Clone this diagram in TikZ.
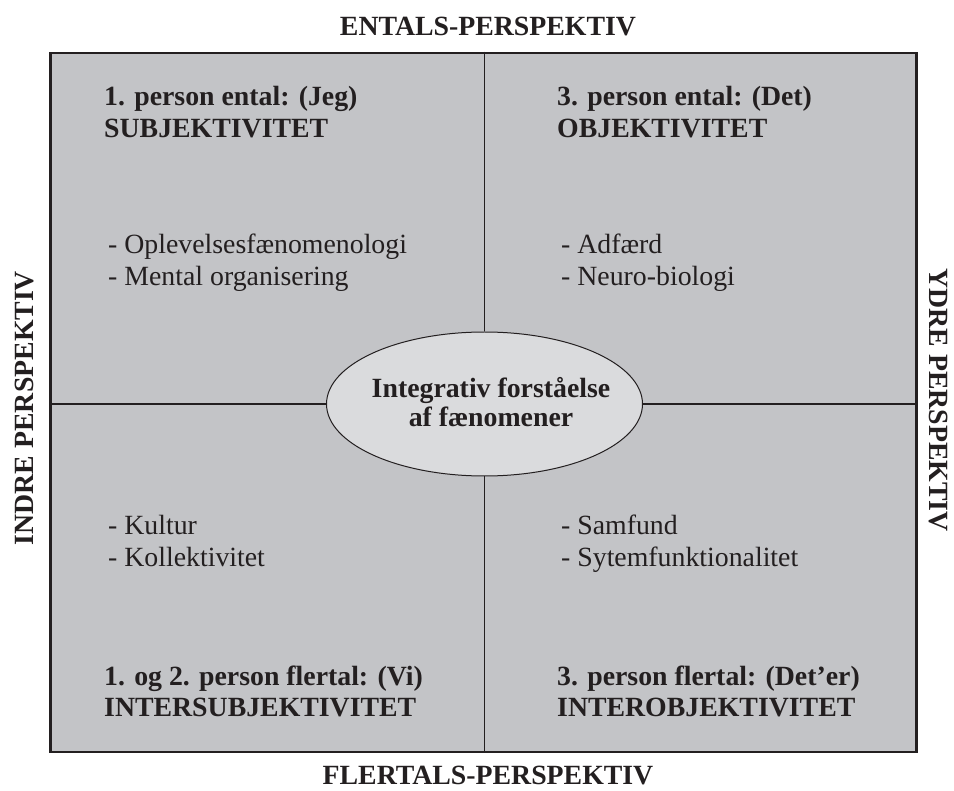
\documentclass[tikz,border=0pt]{standalone}
\usepackage{fontspec}
\setmainfont{Liberation Serif}
\usetikzlibrary{shapes.geometric}
\definecolor{panel}{HTML}{C3C4C7}
\definecolor{hub}{HTML}{DADBDD}
\definecolor{ink}{HTML}{231F20}
\tikzset{
  heading/.style={anchor=base west, inner sep=0pt, text=ink, font=\fontsize{27.8}{33}\selectfont\bfseries},
  item/.style={anchor=base west, inner sep=0pt, text=ink, font=\fontsize{27.8}{33}\selectfont},
  axis/.style={anchor=base, inner sep=0pt, text=ink, font=\fontsize{27.8}{33}\selectfont\bfseries},
  divider/.style={draw=ink, line width=1.3pt},
}
\begin{document}
\begin{tikzpicture}[x=1pt, y=-1pt]
\useasboundingbox (0,0) rectangle (954,791);

% outer frame
\node[draw=ink, fill=panel, line width=2.6pt, minimum width=866pt, minimum height=699pt, inner sep=0pt] (frame) at (483.5,402.5) {};

% central hub
\coordinate (hc) at (484.5,404);
\node[draw=ink, fill=hub, ellipse, line width=1pt, minimum width=316pt, minimum height=144pt, inner sep=0pt] (hub) at (hc) {};
\node[inner sep=0pt, anchor=base, text=ink, font=\fontsize{27.8}{33}\selectfont\bfseries] (hubA) at (491,398) {Integrativ forståelse};
\node[inner sep=0pt, anchor=base, text=ink, font=\fontsize{27.8}{33}\selectfont\bfseries] (hubB) at (491,427) {af fænomener};

% dividers between the quadrants
\draw[divider] (frame.north -| hub.north) -- (hub.north);
\draw[divider] (hub.south) -- (frame.south -| hub.south);
\draw[divider] (frame.west |- hub.west) -- (hub.west);
\draw[divider] (hub.east) -- (frame.east |- hub.east);

% axis labels
\node[axis] (top) at (488,36) {ENTALS-PERSPEKTIV};
\node[axis] (bottom) at (488,784) {FLERTALS-PERSPEKTIV};
\node[axis, rotate=90] (left) at (34,408) {INDRE PERSPEKTIV};
\node[axis, rotate=-90] (right) at (929,400) {YDRE PERSPEKTIV};

% upper left
\node[heading] (tl1) at (104,106) {1. person ental: (Jeg)};
\node[heading] (tl2) at (104,138) {SUBJEKTIVITET};
\node[item] (tl3) at (108,254) {- Oplevelsesfænomenologi};
\node[item] (tl4) at (108,286) {- Mental organisering};

% upper right
\node[heading] (tr1) at (557,106) {3. person ental: (Det)};
\node[heading] (tr2) at (557,138) {OBJEKTIVITET};
\node[item] (tr3) at (561,254) {- Adfærd};
\node[item] (tr4) at (561,286) {- Neuro-biologi};

% lower left
\node[item] (bl3) at (108,535) {- Kultur};
\node[item] (bl4) at (108,567) {- Kollektivitet};
\node[heading] (bl1) at (104,685) {1. og 2. person flertal: (Vi)};
\node[heading] (bl2) at (104,716) {INTERSUBJEKTIVITET};

% lower right
\node[item] (br3) at (561,535) {- Samfund};
\node[item] (br4) at (561,567) {- Sytemfunktionalitet};
\node[heading] (br1) at (557,685) {3. person flertal: (Det’er)};
\node[heading] (br2) at (557,716) {INTEROBJEKTIVITET};
\end{tikzpicture}
\end{document}
